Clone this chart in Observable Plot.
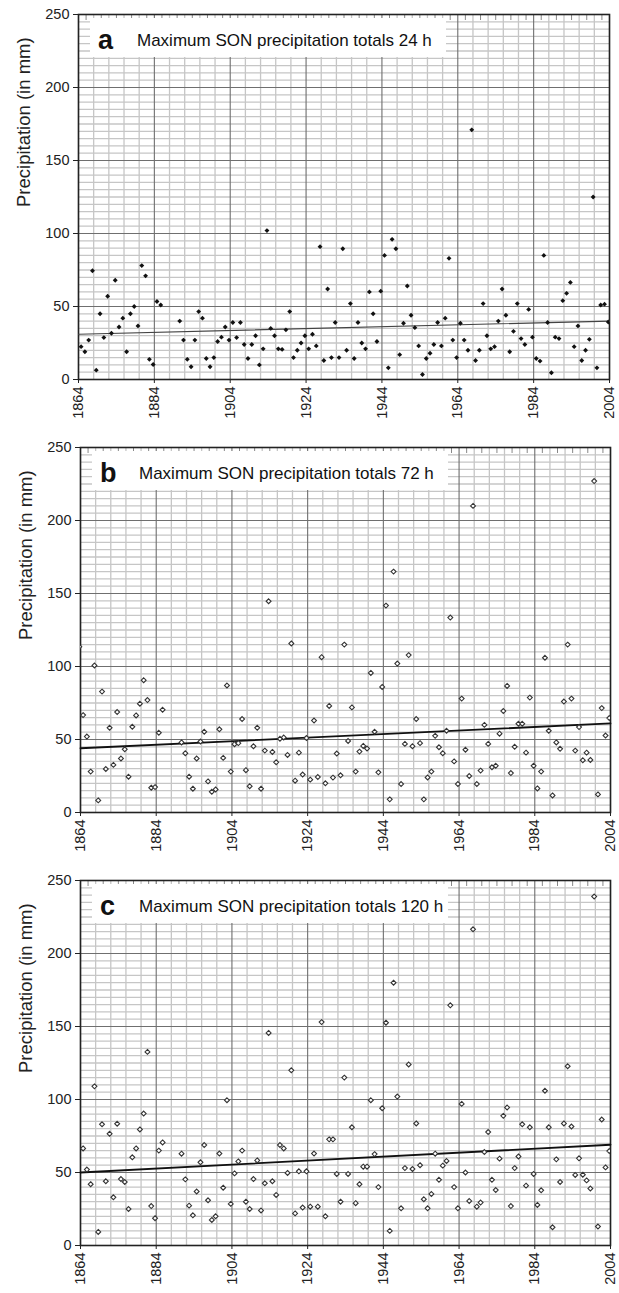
<!DOCTYPE html>
<html><head><meta charset="utf-8">
<script src="https://cdn.jsdelivr.net/npm/d3@7"></script>
<script src="https://cdn.jsdelivr.net/npm/@observablehq/plot@0.6"></script>
<style>
body{margin:0;background:#fff;font-family:"Liberation Sans",Arial,sans-serif;}
.panel{position:relative;width:619px;height:433px;overflow:hidden;}
.panel svg{display:block;}
.box{position:absolute;background:#fff;}
.lab{position:absolute;font-weight:bold;font-size:27px;line-height:1;color:#111;}
.ttl{position:absolute;font-size:17px;line-height:1;color:#111;white-space:nowrap;}
</style></head><body><div id="chart"></div>
<script>
const years = [1864,1865,1866,1867,1868,1869,1870,1871,1872,1873,1874,1875,1876,1877,1878,1879,1880,1881,1882,1883,
1884,1885,1886,1887,1888,1889,1890,1891,1892,1893,1894,1895,1896,1897,1898,1899,1900,1901,1902,1903,
1904,1905,1906,1907,1908,1909,1910,1911,1912,1913,1914,1915,1916,1917,1918,1919,1920,1921,1922,1923,
1924,1925,1926,1927,1928,1929,1930,1931,1932,1933,1934,1935,1936,1937,1938,1939,1940,1941,1942,1943,
1944,1945,1946,1947,1948,1949,1950,1951,1952,1953,1954,1955,1956,1957,1958,1959,1960,1961,1962,1963,
1964,1965,1966,1967,1968,1969,1970,1971,1972,1973,1974,1975,1976,1977,1978,1979,1980,1981,1982,1983,
1984,1985,1986,1987,1988,1989,1990,1991,1992,1993,1994,1995,1996,1997,1998,1999,2000,2001,2002,2003,2004];

// 24 h maxima (mm)
const valuesA = [22.5,19,27,74.5,6.4,45,28.7,57,31.7,68,
36,42,19,45,50,36.7,78,71,13.8,10.3,
53.4,51,null,null,null,null,40,27,13.8,8.7,
27,46.5,42,14.4,8.7,15,26,29,36,27,
39,28.7,39,24,14.4,24,30,10,21,102,
35,30,21,20.6,34,46.5,15,20,25,30,
21,31,23,91,13,62,15,39,15,89.6,
20,52,14.4,39,25,21,60,45,26,60.5,
85,8,96,89.6,17,38.5,64,44,35.5,23,
3.4,14.4,18,24,39,23,42,83,27,15,
38.5,27,20,171,13,20,52,30,21,22.5,
40,62,44,19,33,52,28,24,48,29,
14.4,12.6,85,39,4.6,29,28,54,59,66.5,
22.5,36.7,13,20,27.5,125,8,51,51.6,39.4,
21];

// 72 h maxima (mm)
const valuesB = [66.7,52,28,100.7,8.3,82.8,29.8,58,32.6,68.8,
37,43.3,24.5,58.7,66.5,74.5,90.6,77,17,17.4,
54.6,70.4,null,null,null,null,48,40.6,24.5,16.3,
37,48.6,55.3,21.3,14.2,15.8,57,37.4,87,28,
46.8,47.5,64,29,18,45.4,58,16.3,42.4,144.7,
41.5,34.4,50.5,51.4,39.4,115.8,21.8,41,26,51,
22.5,63,24.3,106.4,20,73,23.9,40.4,25.5,115,
49,72,28,41.7,45.6,43.8,95.6,55.3,27.5,86,
141.7,9,165,102,19.5,47,107.8,45.4,64,47.5,
9,24,28,52.5,44.7,40.6,56,133.5,35,19.5,
78,43,25,210,19.5,28.7,60,47,31,32,
54,69.5,86.7,27,45,60.8,60.8,41,78.7,32,
16.5,28,106,56,11.7,48,43.6,76,115,78,
42.4,58.5,35.8,41,36,227,12.4,71.5,52.7,64.7,
47.5];
// a partly clipped value just left of the first year in panel b
const extraYearsB = [1863];
const extraValuesB = [113.5];

// 120 h maxima (mm)
const valuesC = [66.5,52,42,109,9.3,83,44,76.5,33,83.4,
45.5,43.5,25,60.4,66.5,79.5,90.4,132.6,27,18.7,
65,70.6,null,null,null,null,62.9,45.3,27.3,20.7,
37,57,68.8,31,17.5,20,63,39.6,99.5,28.5,
49.4,57.6,65,30,25,45.5,58.3,24,42.6,145.6,
44,34.6,68.8,66.5,49.7,120,22,50.8,26,50.8,
26.6,63,26.6,153,20,72.7,72.7,49,30,115,
49,81,29,42,54,54,99.5,62.6,40,94,
152.6,10,180,102,25.5,53,124,52.4,83.6,55,
31.7,25.5,35.3,62.9,45,54.7,57.9,164.5,40,25.5,
97,50,30.5,216.6,26.6,29.4,64,77.7,45,38,
59.5,88.8,94.5,27,53,61,83,41,81,49,
27.8,37.8,106,81,12.5,59,43.5,83.6,122.8,81.5,
48.3,59.7,48.5,44.6,39,239,13,86.3,53.5,64.7,
null];

// linear trend lines (start and end of the period)
const trendYears = [1864, 2004];
const trendA = [31, 40];
const trendB = [44, 61];
const trendC = [50, 69];

const panelLetters = ["a","b","c"];
const panelTitles = ["Maximum SON precipitation totals 24 h","Maximum SON precipitation totals 72 h","Maximum SON precipitation totals 120 h"];
const xTickLabels = [1864,1884,1904,1924,1944,1964,1984,2004];
const xMinorTicks = [1868,1872,1876,1880,1888,1892,1896,1900,1908,1912,1916,1920,1928,1932,1936,1940,1948,1952,1956,1960,1968,1972,1976,1980,1988,1992,1996,2000];
const xTopTicks = [1866,1870,1874,1878,1882,1886,1890,1894,1898,1902,1906,1910,1914,1918,1922,1926,1930,1934,1938,1942,1946,1950,1954,1958,1962,1966,1970,1974,1978,1982,1986,1990,1994,1998,2002];
const yTickLabels = [0,50,100,150,200,250];
const yMinorTicks = [5,10,15,20,25,30,35,40,45,55,60,65,70,75,80,85,90,95,105,110,115,120,125,130,135,140,145,155,160,165,170,175,180,185,190,195,205,210,215,220,225,230,235,240,245];
const yTitle = "Precipitation (in mm)";

function rows(vals, extraY = [], extraV = []) {
  const r = years.map((y, i) => ({year: y, value: vals[i]}));
  extraY.forEach((y, i) => r.unshift({year: y, value: extraV[i]}));
  return r.filter(d => d.value != null);
}
const datasets = [rows(valuesA), rows(valuesB, extraYearsB, extraValuesB), rows(valuesC)];
const trends = [trendA, trendB, trendC].map(t => trendYears.map((y, i) => ({year: y, value: t[i]})));

const layout = [
  {ml: 78, mr: 10, filled: true, trendStroke: "#444", trendWidth: 1.1},
  {ml: 80, mr: 9, filled: false, trendStroke: "#111", trendWidth: 1.8},
  {ml: 80, mr: 9, filled: false, trendStroke: "#111", trendWidth: 1.8}
];

const root = document.getElementById("chart");
datasets.forEach((data, i) => {
  const L = layout[i];
  const plot = Plot.plot({
    width: 619, height: 433,
    marginLeft: L.ml, marginRight: L.mr, marginTop: 14, marginBottom: 54,
    x: {domain: [1864, 2004]},
    y: {domain: [0, 250]},
    style: {fontFamily: "'Liberation Sans', Arial, sans-serif", color: "#222", background: "white"},
    marks: [
      Plot.gridX(xMinorTicks, {stroke: "#c6c6c6", strokeOpacity: 1, strokeWidth: 1.3}),
      Plot.gridY(yMinorTicks, {stroke: "#c6c6c6", strokeOpacity: 1, strokeWidth: 1.3}),
      Plot.gridX(xTickLabels, {stroke: "#6f6f6f", strokeOpacity: 1, strokeWidth: 1.1}),
      Plot.gridY(yTickLabels, {stroke: "#6f6f6f", strokeOpacity: 1, strokeWidth: 1.1}),
      Plot.axisX({ticks: xTickLabels, tickSize: 4, tickPadding: 3, tickRotate: -90, fontSize: 14.5, tickFormat: "d", label: null}),
      Plot.axisX({anchor: "top", ticks: xTopTicks, tickSize: -5, tickFormat: () => "", label: null, stroke: "#888"}),
      Plot.axisY({ticks: yTickLabels, tickSize: 5, tickPadding: 4, fontSize: 14.5, label: null}),
      Plot.frame({stroke: "#222", strokeWidth: 1.6}),
      Plot.line(trends[i], {x: "year", y: "value", stroke: L.trendStroke, strokeWidth: L.trendWidth}),
      Plot.dot(data, {x: "year", y: "value", symbol: "diamond2", r: 2.2, dx: 2.6, clip: true,
        fill: L.filled ? "#111" : "white", stroke: L.filled ? "none" : "#333", strokeWidth: 1.1}),
      Plot.text([yTitle], {text: d => d, frameAnchor: "left", rotate: -90, dx: -54, dy: 10, fontSize: 18.5, fill: "#222"})
    ]
  });
  const div = document.createElement("div");
  div.className = "panel";
  div.appendChild(plot);
  const box = document.createElement("div");
  box.className = "box";
  Object.assign(box.style, {left: (L.ml + 12) + "px", top: "18px", width: "356px", height: "39px"});
  div.appendChild(box);
  const lab = document.createElement("div");
  lab.className = "lab";
  lab.textContent = panelLetters[i];
  Object.assign(lab.style, {left: (L.ml + 20) + "px", top: "27px"});
  div.appendChild(lab);
  const ttl = document.createElement("div");
  ttl.className = "ttl";
  ttl.textContent = panelTitles[i];
  Object.assign(ttl.style, {left: (L.ml + 59) + "px", top: "32px"});
  div.appendChild(ttl);
  root.appendChild(div);
});
</script>
</body></html>
